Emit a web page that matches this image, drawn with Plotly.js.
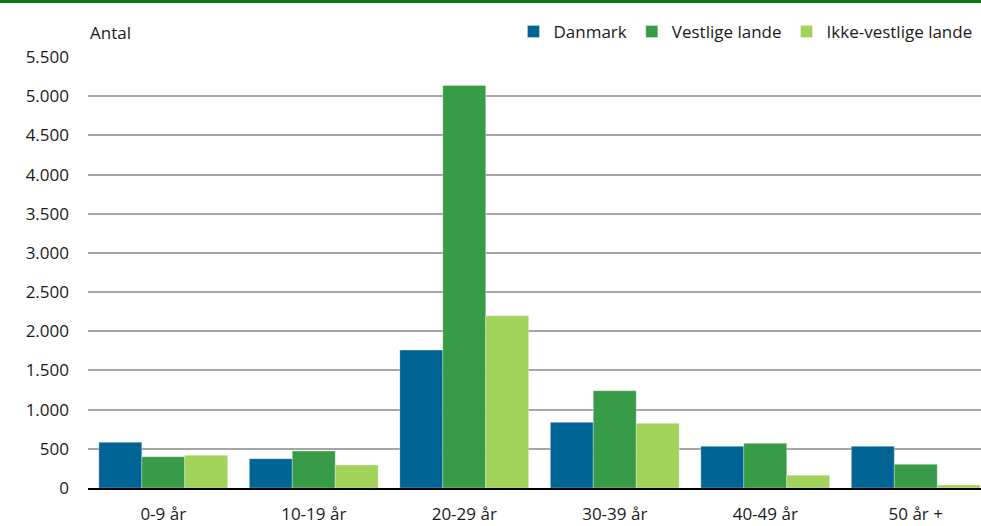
<!DOCTYPE html>
<html>
<head>
<meta charset="utf-8">
<script src="https://cdn.plot.ly/plotly-3.0.1.min.js"></script>
<style>
html,body{margin:0;padding:0;overflow:hidden;background:#fff;}
#chart{width:991px;height:526px;}
</style>
</head>
<body>
<div id="chart"></div>
<script>
const categories = ["0-9 år", "10-19 år", "20-29 år", "30-39 år", "40-49 år", "50 år +"];
const danmark = [583, 374, 1760, 838, 532, 532];
const vestlige = [399, 472, 5136, 1241, 570, 302];
const ikkeVestlige = [417, 293, 2198, 825, 162, 38];
const seriesNames = ["Danmark", "Vestlige lande", "Ikke-vestlige lande"];
const yTicks = [0, 500, 1000, 1500, 2000, 2500, 3000, 3500, 4000, 4500, 5000, 5500];

const colors = ["#006494", "#379b48", "#a2d35a"];
const font = {family: "Open Sans, sans-serif", size: 17, color: "#1a1a1a"};

const traces = [danmark, vestlige, ikkeVestlige].map((vals, i) => ({
  type: "bar",
  name: seriesNames[i],
  x: categories,
  y: vals,
  marker: {color: colors[i], line: {color: "rgba(255,255,255,0.5)", width: 0.6}},
  hoverinfo: "x+y+name"
}));

const layout = {
  width: 991,
  height: 526,
  margin: {l: 88, r: 0, t: 57, b: 38},
  paper_bgcolor: "#fff",
  plot_bgcolor: "#fff",
  font: font,
  separators: ",.",
  barmode: "group",
  bargap: 0.144,
  bargroupgap: 0,
  showlegend: true,
  legend: {
    orientation: "h",
    x: 0.985, xanchor: "right",
    y: 1.058, yanchor: "middle",
    font: font,
    itemwidth: 30,
    traceorder: "normal",
    bgcolor: "rgba(0,0,0,0)"
  },
  xaxis: {
    type: "category",
    showgrid: false,
    showline: true,
    linecolor: "#000",
    linewidth: 2,
    ticks: "",
    tickfont: font,
    ticklabelstandoff: 10,
    fixedrange: true
  },
  yaxis: {
    range: [0, 5500],
    tickvals: yTicks,
    tickformat: ",d",
    showgrid: true,
    gridcolor: "#a6a6a6",
    gridwidth: 2,
    zeroline: false,
    showline: false,
    ticks: "",
    tickfont: font,
    ticklabelstandoff: 18,
    fixedrange: true
  },
  annotations: [{
    text: "Antal",
    xref: "paper", yref: "paper",
    x: 0, y: 1.058,
    xanchor: "left", yanchor: "middle",
    showarrow: false,
    font: font
  }],
  shapes: [{
    type: "rect",
    xref: "paper", yref: "paper",
    x0: -0.2, x1: 1.1,
    y0: (488 - 0) / 431, y1: (488 - 3) / 431,
    fillcolor: "#0a7a16",
    line: {width: 0}
  }]
};

Plotly.newPlot("chart", traces, layout, {displayModeBar: false, staticPlot: true});
</script>
</body>
</html>
